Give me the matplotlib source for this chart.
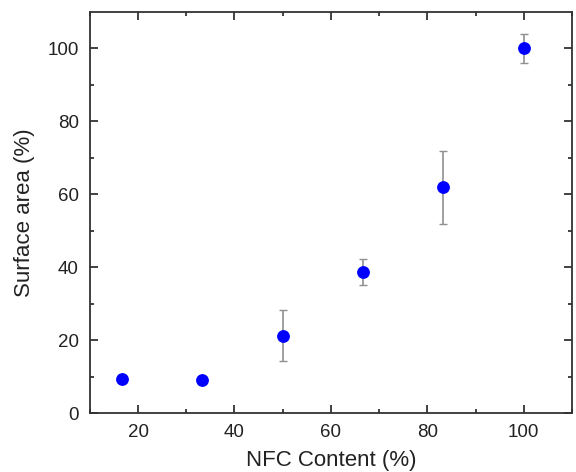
import matplotlib.pyplot as plt

plt.rcParams["font.family"] = ["Liberation Sans", "DejaVu Sans"]

nfc_content = [16.67, 33.33, 50.0, 66.67, 83.33, 100.0]
surface_area = [9.5, 9.2, 21.3, 38.8, 61.9, 100.0]
surface_err = [0.5, 0.5, 7.0, 3.5, 9.9, 3.9]

fig = plt.figure(figsize=(5.76, 4.72), dpi=100)
ax = fig.add_axes([0.156, 0.1244, 0.837, 0.8502])

ax.errorbar(nfc_content, surface_area, yerr=surface_err, fmt="o",
            color="#0000ff", markersize=8.2, ecolor="#909090",
            elinewidth=1.2, capsize=2.8, capthick=1.0, zorder=3)

ax.set_xlim(10, 110)
ax.set_ylim(0, 110)
ax.set_xticks([20, 40, 60, 80, 100])
ax.set_xticks([10, 30, 50, 70, 90, 110], minor=True)
ax.set_yticks([0, 20, 40, 60, 80, 100])
ax.set_yticks([10, 30, 50, 70, 90], minor=True)

ax.tick_params(which="both", direction="in", top=True, right=True,
               width=1.3, labelsize=13.5, colors="#333333", labelcolor="#222222")
ax.tick_params(which="major", length=6, pad=8)
ax.tick_params(which="minor", length=3)
for s in ax.spines.values():
    s.set_linewidth(1.3)
    s.set_color("#333333")

ax.set_xlabel("NFC Content (%)", fontsize=16, labelpad=6, color="#222222")
ax.set_ylabel("Surface area (%)", fontsize=16, labelpad=9, color="#222222")

fig.savefig("out.png", dpi=100)
